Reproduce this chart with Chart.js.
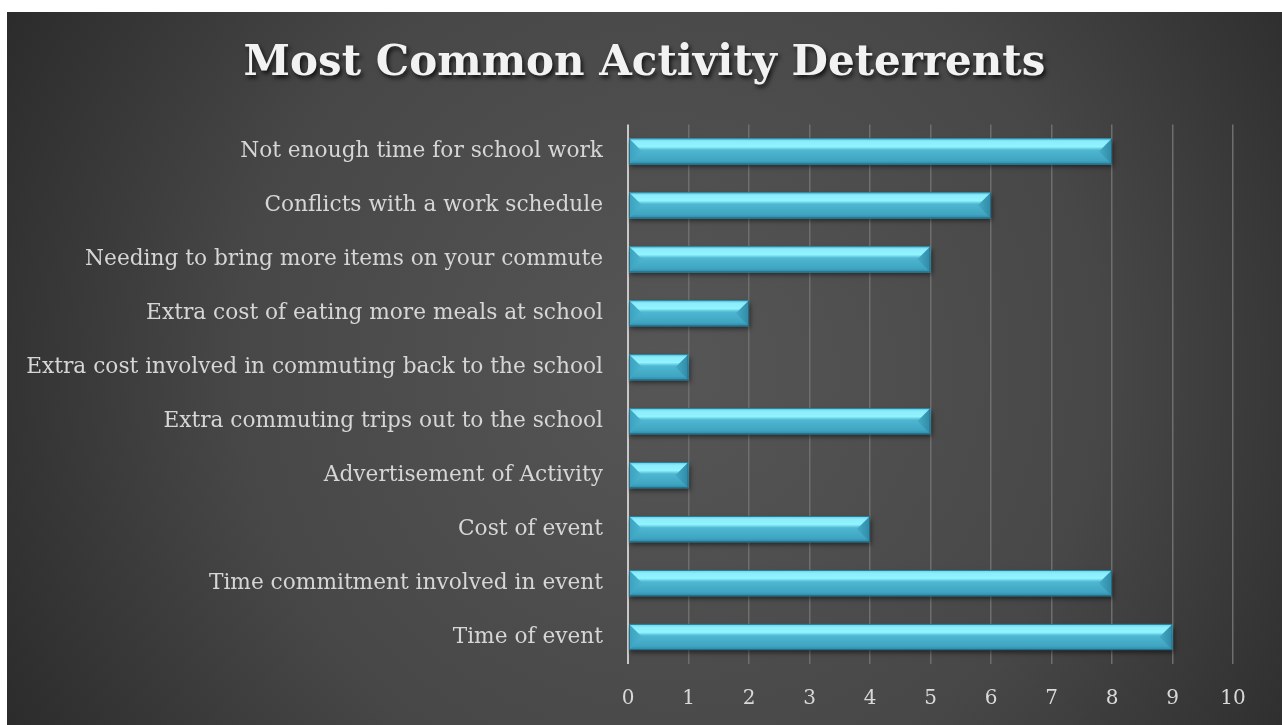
<!DOCTYPE html>
<html>
<head>
<meta charset="utf-8">
<script src="https://cdn.jsdelivr.net/npm/chart.js@4.4.1/dist/chart.umd.min.js"></script>
<style>
  html, body { margin: 0; padding: 0; background: #ffffff; width: 1282px; height: 725px; overflow: hidden; }
  #wrap { position: absolute; left: 7px; top: 12px; width: 1275px; height: 713px; }
</style>
</head>
<body>
<div id="wrap"><canvas id="c" width="1275" height="713"></canvas></div>
<script>
const titleText = 'Most Common Activity Deterrents';
const categories = [
  'Not enough time for school work',
  'Conflicts with a work schedule',
  'Needing to bring more items on your commute',
  'Extra cost of eating more meals at school',
  'Extra cost involved in commuting back to the school',
  'Extra commuting trips out to the school',
  'Advertisement of Activity',
  'Cost of event',
  'Time commitment involved in event',
  'Time of event'
];
const values = [8, 6, 5, 2, 1, 5, 1, 4, 8, 9];
const xMin = 0, xMax = 10, xStep = 1;

const serif = "'DejaVu Serif', 'Liberation Serif', serif";

const bgPlugin = {
  id: 'bg',
  beforeDraw(chart) {
    const { ctx, width, height } = chart;
    ctx.save();
    const g = ctx.createRadialGradient(width * 0.52, height * 0.5, 0, width * 0.52, height * 0.5, width * 0.62);
    g.addColorStop(0, '#565656');
    g.addColorStop(0.55, '#474747');
    g.addColorStop(1, '#282828');
    ctx.fillStyle = g;
    ctx.fillRect(0, 0, width, height);
    ctx.restore();
  },
  afterInit(chart) {
    const tb = chart.titleBlock;
    if (tb && !tb._shadowWrapped) {
      const orig = tb.draw.bind(tb);
      tb.draw = function () {
        const ctx = chart.ctx;
        ctx.save();
        ctx.shadowColor = 'rgba(0,0,0,0.75)';
        ctx.shadowBlur = 4;
        ctx.shadowOffsetX = 2;
        ctx.shadowOffsetY = 3;
        orig();
        ctx.restore();
      };
      tb._shadowWrapped = true;
    }
  },
  beforeDatasetsDraw(chart) {
    const ctx = chart.ctx;
    ctx.save();
    ctx.shadowColor = 'rgba(0,0,0,0.55)';
    ctx.shadowBlur = 5;
    ctx.shadowOffsetX = 1;
    ctx.shadowOffsetY = 3;
  },
  afterDatasetsDraw(chart) {
    const ctx = chart.ctx;
    ctx.restore();
    const meta = chart.getDatasetMeta(0);
    meta.data.forEach(bar => {
      const { x, y, base, height } = bar.getProps(['x', 'y', 'base', 'height'], true);
      const top = y - height / 2, bot = y + height / 2;
      const left = Math.min(base, x), right = Math.max(base, x);
      ctx.save();
      const g = ctx.createLinearGradient(0, top, 0, bot);
      g.addColorStop(0, '#5fcfe6');
      g.addColorStop(0.12, '#8cecfb');
      g.addColorStop(0.32, '#92f4ff');
      g.addColorStop(0.45, '#4fb7d1');
      g.addColorStop(0.85, '#3fa5c2');
      g.addColorStop(1, '#2d86a3');
      ctx.fillStyle = g;
      ctx.fillRect(left, top, right - left, bot - top);
      const bev = Math.min(height * 0.5, (right - left) / 2);
      ctx.beginPath();
      ctx.moveTo(left, top);
      ctx.lineTo(left + bev, y);
      ctx.lineTo(left, bot);
      ctx.closePath();
      const gl = ctx.createLinearGradient(left, 0, left + bev, 0);
      gl.addColorStop(0, '#3aa2bf');
      gl.addColorStop(1, '#4db4cf');
      ctx.fillStyle = gl;
      ctx.fill();
      ctx.beginPath();
      ctx.moveTo(right, top);
      ctx.lineTo(right - bev, y);
      ctx.lineTo(right, bot);
      ctx.closePath();
      const gr = ctx.createLinearGradient(right - bev, 0, right, 0);
      gr.addColorStop(0, '#46abc6');
      gr.addColorStop(1, '#2f8aa6');
      ctx.fillStyle = gr;
      ctx.fill();
      ctx.strokeStyle = 'rgba(30,100,125,0.8)';
      ctx.lineWidth = 1;
      ctx.strokeRect(left + 0.5, top + 0.5, right - left - 1, bot - top - 1);
      ctx.restore();
    });
  }
};

new Chart(document.getElementById('c'), {
  type: 'bar',
  data: {
    labels: categories,
    datasets: [{
      data: values,
      backgroundColor: '#46b0cc',
      borderWidth: 0,
      barPercentage: 0.5,
      categoryPercentage: 0.97
    }]
  },
  options: {
    indexAxis: 'y',
    responsive: false,
    animation: false,
    layout: { padding: 0 },
    plugins: {
      legend: { display: false },
      tooltip: { enabled: false },
      title: {
        display: true,
        text: titleText,
        color: '#f2f2f2',
        font: { family: serif, size: 42, weight: 'bold', lineHeight: 1.2 },
        padding: { top: 27, bottom: 35 }
      }
    },
    scales: {
      x: {
        type: 'linear',
        min: xMin, max: xMax,
        ticks: { stepSize: xStep, color: '#d9d9d9', font: { family: serif, size: 20 }, padding: 23 },
        grid: {
          drawTicks: false,
          color: ctx => (ctx.tick && ctx.tick.value === 0) ? '#c8c8c8' : '#6e6e6e',
          lineWidth: ctx => (ctx.tick && ctx.tick.value === 0) ? 2 : 1.5
        },
        border: { display: false },
        afterFit(scale) { scale.height = 61; }
      },
      y: {
        ticks: { color: '#d6d6d6', font: { family: serif, size: 21.7 }, padding: 25 },
        grid: { display: false, drawTicks: false },
        border: { display: false },
        afterFit(scale) { scale.width = 621; }
      },
      yRight: {
        position: 'right',
        display: true,
        ticks: { display: false },
        grid: { display: false, drawTicks: false },
        border: { display: false },
        afterFit(scale) { scale.width = 49; }
      }
    }
  },
  plugins: [bgPlugin]
});
</script>
</body>
</html>
